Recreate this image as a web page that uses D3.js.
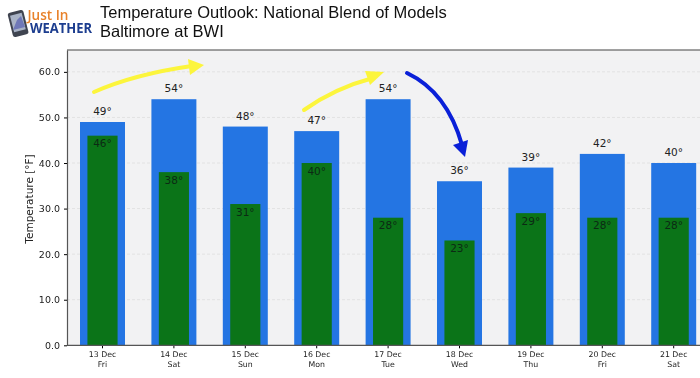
<!DOCTYPE html>
<html>
<head>
<meta charset="utf-8">
<script src="https://cdn.jsdelivr.net/npm/d3@7"></script>
<style>
  html, body { margin: 0; padding: 0; background: #fff; overflow: hidden; }
  text { font-family: "DejaVu Sans", sans-serif; }
  svg { filter: blur(0.35px); }
</style>
</head>
<body>
<div id="chart"></div>
<script>
const days = ["13 Dec", "14 Dec", "15 Dec", "16 Dec", "17 Dec", "18 Dec", "19 Dec", "20 Dec", "21 Dec"];
const weekdays = ["Fri", "Sat", "Sun", "Mon", "Tue", "Wed", "Thu", "Fri", "Sat"];
const highs = [49, 54, 48, 47, 54, 36, 39, 42, 40];
const lows = [46, 38, 31, 40, 28, 23, 29, 28, 28];
const yTicks = [0, 10, 20, 30, 40, 50, 60];

const width = 700, height = 378;
const plot = { left: 67, top: 50, bottom: 345.3 };

const svg = d3.select("#chart").append("svg")
  .attr("width", width)
  .attr("height", height);

const x = d3.scaleBand()
  .domain(days)
  .range([66.8, 709.4])
  .paddingInner(0.37)
  .paddingOuter(0.185);

const y = d3.scaleLinear()
  .domain([0, 64.8])
  .range([plot.bottom, plot.top]);

// plot background
svg.append("rect")
  .attr("x", plot.left)
  .attr("y", plot.top)
  .attr("width", width - plot.left)
  .attr("height", plot.bottom - plot.top)
  .attr("fill", "#f2f2f3");

// gridlines
svg.selectAll("line.grid")
  .data(yTicks.filter(d => d > 0))
  .enter()
  .append("line")
  .attr("class", "grid")
  .attr("x1", plot.left)
  .attr("x2", width)
  .attr("y1", d => y(d))
  .attr("y2", d => y(d))
  .attr("stroke", "#e2e2e2")
  .attr("stroke-dasharray", "3,2");

// high bars
svg.selectAll("rect.high")
  .data(days)
  .enter()
  .append("rect")
  .attr("class", "high")
  .attr("x", d => x(d))
  .attr("y", (d, i) => y(highs[i]))
  .attr("width", x.bandwidth())
  .attr("height", (d, i) => plot.bottom - y(highs[i]))
  .attr("fill", "#2475e3");

// low bars, narrower and centred on the high bars
const lowWidth = x.bandwidth() * 0.67;
svg.selectAll("rect.low")
  .data(days)
  .enter()
  .append("rect")
  .attr("class", "low")
  .attr("x", d => x(d) + (x.bandwidth() - lowWidth) / 2)
  .attr("y", (d, i) => y(lows[i]))
  .attr("width", lowWidth)
  .attr("height", (d, i) => plot.bottom - y(lows[i]))
  .attr("fill", "#0b7418");

// value labels
svg.selectAll("text.high-label")
  .data(days)
  .enter()
  .append("text")
  .attr("class", "high-label")
  .attr("x", d => x(d) + x.bandwidth() / 2)
  .attr("y", (d, i) => y(highs[i]) - 7)
  .attr("text-anchor", "middle")
  .attr("font-size", 10.5)
  .attr("fill", "#222")
  .text((d, i) => highs[i] + "°");

svg.selectAll("text.low-label")
  .data(days)
  .enter()
  .append("text")
  .attr("class", "low-label")
  .attr("x", d => x(d) + x.bandwidth() / 2)
  .attr("y", (d, i) => y(lows[i]) + 11.5)
  .attr("text-anchor", "middle")
  .attr("font-size", 10.5)
  .attr("fill", "#0c2a14")
  .text((d, i) => lows[i] + "°");

// axes
const gY = svg.append("g")
  .attr("transform", `translate(${plot.left},0)`)
  .call(d3.axisLeft(y).tickValues(yTicks).tickFormat(d3.format(".1f")).tickSizeInner(3).tickSizeOuter(0).tickPadding(4));
gY.select(".domain").attr("stroke", "#555").attr("stroke-width", 1.2);
gY.selectAll("text").attr("font-size", 9.5).attr("fill", "#222").style("font-family", '"DejaVu Sans", sans-serif');

const gX = svg.append("g")
  .attr("transform", `translate(0,${plot.bottom})`)
  .call(d3.axisBottom(x).tickSize(3).tickPadding(3));
gX.select(".domain").remove();
gX.selectAll("text")
  .attr("font-size", 7.8)
  .attr("fill", "#222")
  .style("font-family", '"DejaVu Sans", sans-serif')
  .each(function(d, i) {
    d3.select(this).append("tspan")
      .attr("x", 0)
      .attr("dy", "1.25em")
      .text(weekdays[i]);
  });

svg.append("line")
  .attr("x1", plot.left).attr("x2", width)
  .attr("y1", plot.bottom).attr("y2", plot.bottom)
  .attr("stroke", "#555").attr("stroke-width", 1.2);
svg.append("line")
  .attr("x1", plot.left).attr("x2", width)
  .attr("y1", plot.top).attr("y2", plot.top)
  .attr("stroke", "#444").attr("stroke-width", 1.2);

svg.append("text")
  .attr("transform", "translate(33,199) rotate(-90)")
  .attr("text-anchor", "middle")
  .attr("font-size", 10.5)
  .attr("fill", "#222")
  .text("Temperature [°F]");

// title
const title = svg.append("g")
  .attr("font-size", 16.5)
  .attr("fill", "#111");
title.append("text").attr("x", 100).attr("y", 18).style("font-family", '"Liberation Sans", Arial, sans-serif').text("Temperature Outlook: National Blend of Models");
title.append("text").attr("x", 100).attr("y", 37).style("font-family", '"Liberation Sans", Arial, sans-serif').text("Baltimore at BWI");

// logo
const logo = svg.append("g");
logo.append("rect")
  .attr("x", 10).attr("y", 11).attr("width", 16).attr("height", 25).attr("rx", 2.5)
  .attr("transform", "rotate(-14 18 23)")
  .attr("fill", "#3f4450");
logo.append("rect")
  .attr("x", 12).attr("y", 14).attr("width", 12).attr("height", 17)
  .attr("transform", "rotate(-14 18 23)")
  .attr("fill", "#a9b3c6");
logo.append("path")
  .attr("d", "M13 30 L17 20 L21 16 L25 27 Z")
  .attr("fill", "#6f78b8");
logo.append("text")
  .attr("x", 27.5).attr("y", 20)
  .attr("font-size", 14.5)
  .attr("font-weight", 600)
  .attr("fill", "#e8822a")
  .attr("textLength", 41)
  .attr("lengthAdjust", "spacingAndGlyphs")
  .style("font-family", '"Open Sans", sans-serif')
  .text("Just In");
logo.append("text")
  .attr("x", 30).attr("y", 32.5)
  .attr("font-size", 15)
  .attr("font-weight", 700)
  .attr("fill", "#1c3d8f")
  .attr("textLength", 62)
  .attr("lengthAdjust", "spacingAndGlyphs")
  .style("font-family", '"Open Sans", sans-serif')
  .text("WEATHER");

// hand-drawn arrows
function arrow(path, head, color, w) {
  svg.append("path").attr("d", path).attr("fill", "none").attr("stroke", color).attr("stroke-width", w).attr("stroke-linecap", "round");
  svg.append("path").attr("d", head).attr("fill", color);
}
arrow("M94 92 Q135 74 192 66", "M188 59 L204 65 L190 75 Z", "#fcf53c", 4);
arrow("M304 110 Q335 88 373 78", "M365 71 L384 72 L370 85 Z", "#fcf53c", 4);
arrow("M407 73 Q447 92 462 145", "M453 145 L468 140 L465 157 Z", "#0a20d8", 4);
</script>
</body>
</html>
